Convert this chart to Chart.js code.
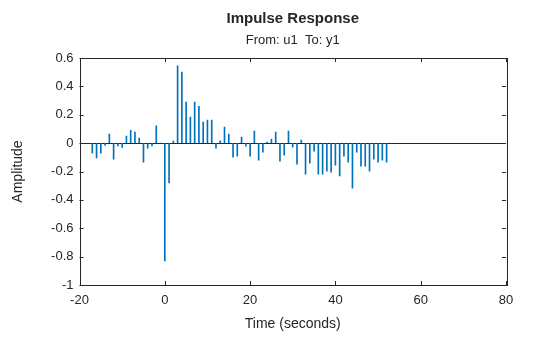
<!DOCTYPE html>
<html>
<head>
<meta charset="utf-8">
<script src="https://cdn.jsdelivr.net/npm/chart.js@4/dist/chart.umd.min.js"></script>
<style>
  html, body { margin: 0; padding: 0; background: #fff; }
  #wrap { width: 560px; height: 337px; position: relative; }
</style>
</head>
<body>
<div id="wrap"><canvas id="impulseChart"></canvas></div>
<script>
// impulse response samples (1 s step)
var times = [-17, -16, -15, -14, -13, -12, -11, -10, -9, -8, -7, -6, -5, -4, -3, -2, -1,
  0, 1, 2, 3, 4, 5, 6, 7, 8, 9, 10, 11, 12, 13, 14, 15, 16, 17, 18, 19, 20,
  21, 22, 23, 24, 25, 26, 27, 28, 29, 30, 31, 32, 33, 34, 35, 36, 37, 38, 39, 40,
  41, 42, 43, 44, 45, 46, 47, 48, 49, 50, 51, 52];
var amplitude = [-0.07, -0.105, -0.07, -0.016, 0.063, -0.113, -0.02, -0.03, 0.05, 0.09, 0.077, 0.035, -0.134, -0.035, -0.02, 0.122, 0,
  -0.83, -0.28, 0.014, 0.545, 0.50, 0.29, 0.183, 0.29, 0.26, 0.148, 0.162, 0.162, -0.036, 0.016, 0.113, 0.063, -0.099, -0.092, 0.042, -0.021, -0.092,
  0.085, -0.12, -0.063, 0.007, 0.028, 0.077, -0.127, -0.085, 0.085, -0.028, -0.148, 0.021, -0.218, -0.141, -0.056, -0.218, -0.218, -0.197, -0.204, -0.155,
  -0.232, -0.092, -0.134, -0.317, -0.063, -0.162, -0.162, -0.197, -0.113, -0.134, -0.12, -0.134];
var xTicks = [-20, 0, 20, 40, 60, 80];
var yTicks = [-1, -0.8, -0.6, -0.4, -0.2, 0, 0.2, 0.4, 0.6];

var axisColor = '#262626';
var fontFam = '"Liberation Sans", Arial, Helvetica, sans-serif';

// box, inward ticks and centred titles, like the MATLAB figure
var matlabFrame = {
  id: 'matlabFrame',
  afterDraw: function (chart) {
    var c = chart.ctx, a = chart.chartArea;
    var xs = chart.scales.x, ys = chart.scales.y;
    c.save();
    c.strokeStyle = axisColor;
    c.lineWidth = 1;
    c.strokeRect(Math.round(a.left) + 0.5, Math.round(a.top) + 0.5,
      Math.round(a.right - a.left), Math.round(a.bottom - a.top));
    c.beginPath();
    xTicks.forEach(function (v) {
      var px = Math.round(xs.getPixelForValue(v)) + 0.5;
      c.moveTo(px, a.bottom); c.lineTo(px, a.bottom - 4);
      c.moveTo(px, a.top); c.lineTo(px, a.top + 4);
    });
    yTicks.forEach(function (v) {
      var py = Math.round(ys.getPixelForValue(v)) + 0.5;
      c.moveTo(a.left, py); c.lineTo(a.left + 4, py);
      c.moveTo(a.right, py); c.lineTo(a.right - 4, py);
    });
    c.stroke();
    var cx = (a.left + a.right) / 2;
    c.fillStyle = axisColor;
    c.textAlign = 'center';
    c.textBaseline = 'middle';
    c.font = 'bold 15px ' + fontFam;
    c.fillText('Impulse Response', cx, 19);
    c.font = '13px ' + fontFam;
    c.fillText('From: u1  To: y1', cx, 40);
    c.restore();
  }
};

var ctx = document.getElementById('impulseChart').getContext('2d');
var impulseChart = new Chart(ctx, {
  type: 'bar',
  data: {
    datasets: [{
      label: 'y1',
      data: times.map(function (t, i) { return { x: t, y: amplitude[i] }; }),
      backgroundColor: '#0072BD',
      borderWidth: 0,
      barThickness: 1
    }]
  },
  options: {
    responsive: true,
    maintainAspectRatio: false,
    animation: false,
    layout: { padding: { top: 58, right: 54, left: 0, bottom: 0 } },
    plugins: {
      legend: { display: false },
      tooltip: { enabled: false },
      title: { display: false }
    },
    scales: {
      x: {
        type: 'linear',
        min: -20,
        max: 80,
        offset: false,
        afterFit: function (s) { s.height = 52; },
        afterBuildTicks: function (s) { s.ticks = xTicks.map(function (v) { return { value: v }; }); },
        grid: { display: false, offset: false },
        border: { display: false },
        ticks: { color: axisColor, font: { family: fontFam, size: 13 }, padding: 0, maxRotation: 0 },
        title: { display: true, text: 'Time (seconds)', color: axisColor, font: { family: fontFam, size: 14 }, padding: { top: 4, bottom: 4 } }
      },
      y: {
        min: -1,
        max: 0.6,
        afterFit: function (s) { s.width = 79.5; },
        afterBuildTicks: function (s) { s.ticks = yTicks.map(function (v) { return { value: v }; }); },
        grid: {
          drawTicks: false,
          color: function (c) { return c.tick && c.tick.value === 0 ? axisColor : 'rgba(0,0,0,0)'; },
          lineWidth: 1
        },
        border: { display: false },
        ticks: {
          color: axisColor,
          font: { family: fontFam, size: 13 },
          padding: 6,
          callback: function (v) { return String(Math.round(v * 10) / 10); }
        },
        title: { display: true, text: 'Amplitude', color: axisColor, font: { family: fontFam, size: 14 }, padding: { top: 10, bottom: 4 } }
      }
    }
  },
  plugins: [matlabFrame]
});
</script>
</body>
</html>
